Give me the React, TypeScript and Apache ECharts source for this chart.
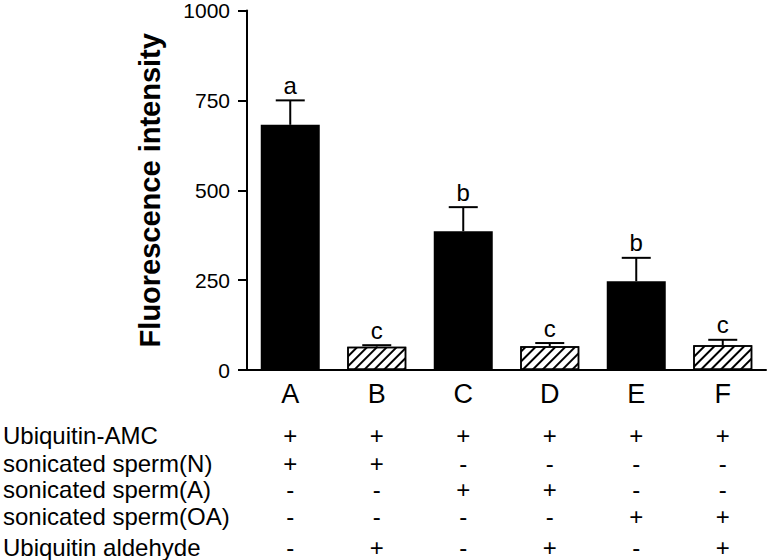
import React, { useEffect, useRef } from "react";
import * as echarts from "echarts";

const categories = ["A", "B", "C", "D", "E", "F"];
const means = [682, 65, 386, 66, 247, 69];
const errors = [68, 4, 67, 9, 65, 15];
const letters = ["a", "c", "b", "c", "b", "c"];
const hatched = [false, true, false, true, false, true];

const rowLabels = [
  "Ubiquitin-AMC",
  "sonicated sperm(N)",
  "sonicated sperm(A)",
  "sonicated sperm(OA)",
  "Ubiquitin aldehyde",
];
const rowValues = [
  ["+", "+", "+", "+", "+", "+"],
  ["+", "+", "-", "-", "-", "-"],
  ["-", "-", "+", "+", "-", "-"],
  ["-", "-", "-", "-", "+", "+"],
  ["-", "+", "-", "+", "-", "+"],
];
const rowOffsets = [65, 93, 119, 146, 177];

const yTicks = { min: 0, max: 1000, interval: 250 };

const FONT = 'Arial, "Liberation Sans", Helvetica, sans-serif';

export default function App() {
  const ref = useRef<HTMLDivElement>(null);
  useEffect(() => {
    if (!ref.current) return;
    const chart = echarts.init(ref.current, null, { renderer: "svg" });

    const tableAxes = rowLabels.map((label, r) => ({
      type: "category",
      gridIndex: 0,
      position: "bottom",
      offset: rowOffsets[r],
      data: rowValues[r],
      axisLine: { show: false },
      axisTick: { show: false },
      axisLabel: {
        interval: 0,
        margin: 0,
        verticalAlign: "middle",
        fontSize: 24,
        color: "#000",
        fontFamily: FONT,
      },
      name: label,
      nameLocation: "start",
      nameGap: 244,
      nameTextStyle: {
        align: "left",
        verticalAlign: "middle",
        fontSize: 24,
        color: "#000",
        fontFamily: FONT,
      },
    }));

    const option: any = {
      animation: false,
      grid: { left: 244, right: 1, top: 10, bottom: 190, containLabel: false },
      xAxis: [
        {
          type: "category",
          data: categories,
          axisLine: { lineStyle: { color: "#000", width: 2 } },
          axisTick: { show: false },
          axisLabel: {
            interval: 0,
            margin: 24,
            verticalAlign: "middle",
            fontSize: 27,
            color: "#000",
            fontFamily: FONT,
          },
        },
        ...tableAxes,
      ],
      yAxis: {
        type: "value",
        min: yTicks.min,
        max: yTicks.max,
        interval: yTicks.interval,
        splitLine: { show: false },
        axisLine: { show: true, lineStyle: { color: "#000", width: 2 } },
        axisTick: { show: true, length: 9, lineStyle: { color: "#000", width: 2 } },
        axisLabel: {
          margin: 17,
          fontSize: 21,
          color: "#000",
          fontFamily: FONT,
          formatter: (v: number) => String(v),
        },
        name: "Fluorescence intensity",
        nameLocation: "middle",
        nameRotate: 90,
        nameGap: 83,
        nameTextStyle: {
          fontSize: 29,
          fontWeight: "bold",
          color: "#000",
          fontFamily: FONT,
        },
      },
      series: [
        {
          type: "bar",
          barWidth: 59,
          data: means.map((v, i) => ({
            value: v,
            itemStyle: hatched[i]
              ? {
                  color: "#fff",
                  borderColor: "#000",
                  borderWidth: 1.5,
                  decal: {
                    symbol: "rect",
                    symbolSize: 1,
                    color: "#000",
                    backgroundColor: "#fff",
                    dashArrayX: [1, 0],
                    dashArrayY: [1.5, 4.3],
                    rotation: -Math.PI / 4,
                  },
                }
              : { color: "#000" },
          })),
        },
        {
          type: "custom",
          data: means.map((v, i) => [i, v, errors[i]]),
          z: 5,
          renderItem: (params: any, api: any) => {
            const i = api.value(0);
            const v = api.value(1);
            const e = api.value(2);
            const base = api.coord([i, v]);
            const top = api.coord([i, v + e]);
            const hw = 14.5;
            const ls = { stroke: "#000", lineWidth: 2 };
            return {
              type: "group",
              children: [
                { type: "line", shape: { x1: top[0], y1: base[1], x2: top[0], y2: top[1] }, style: ls },
                { type: "line", shape: { x1: top[0] - hw, y1: top[1], x2: top[0] + hw, y2: top[1] }, style: ls },
                {
                  type: "text",
                  x: top[0],
                  y: top[1] - 3,
                  style: {
                    text: letters[params.dataIndex],
                    fill: "#000",
                    fontSize: 24,
                    fontFamily: FONT,
                    align: "center",
                    verticalAlign: "bottom",
                  },
                },
              ],
            };
          },
        },
      ],
    };
    chart.setOption(option);
    return () => chart.dispose();
  }, []);
  return (
    <div
      ref={ref}
      style={{ position: "absolute", left: 0, top: 0, width: 767, height: 560, background: "#fff" }}
    />
  );
}
